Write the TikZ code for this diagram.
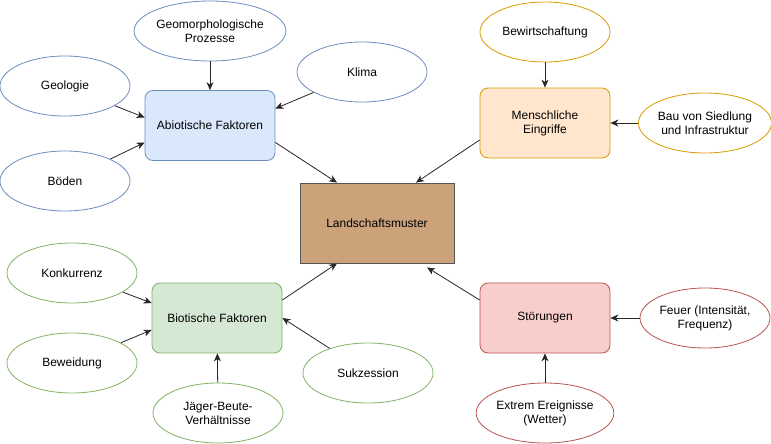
\documentclass[tikz,border=0pt]{standalone}
\usepackage{fontspec}
\setmainfont{Liberation Sans}
\usetikzlibrary{shapes.geometric,arrows.meta}

\definecolor{blueFill}{HTML}{DAE8FC}
\definecolor{blueLine}{HTML}{6C8EBF}
\definecolor{orangeFill}{HTML}{FFE6CC}
\definecolor{orangeLine}{HTML}{D79B00}
\definecolor{greenFill}{HTML}{D5E8D4}
\definecolor{greenLine}{HTML}{82B366}
\definecolor{redFill}{HTML}{F8CECC}
\definecolor{redLine}{HTML}{B85450}
\definecolor{landFill}{HTML}{CCA27B}
\definecolor{landLine}{HTML}{555555}

\begin{document}
\begin{tikzpicture}[
    x=1pt, y=-1pt,
    every node/.style={font=\fontsize{12}{14}\selectfont, align=center, inner sep=0pt},
    factor/.style={rounded corners=8pt, minimum width=130pt, minimum height=70pt, line width=0.8pt},
    influence/.style={ellipse, minimum width=130pt, minimum height=60pt, fill=white, line width=0.8pt},
    arr/.style={-{Stealth[length=8pt, width=7pt, inset=2.5pt]}, line width=0.8pt, black!85},
]
\useasboundingbox (0, 0) rectangle (771, 444);

% Center
\node[draw=landLine, fill=landFill, minimum width=154pt, minimum height=80pt, line width=0.8pt]
    (land) at (377, 223) {Landschaftsmuster};

% Abiotic (blue)
\node[factor, draw=blueLine, fill=blueFill] (abiot) at (210, 125.5) {Abiotische Faktoren};
\node[influence, draw=blueLine] (geomorph) at (210, 31) {Geomorphologische\\Prozesse};
\node[influence, draw=blueLine] (geologie) at (65, 86) {Geologie};
\node[influence, draw=blueLine] (klima) at (362, 72) {Klima};
\node[influence, draw=blueLine] (boeden) at (65, 181) {Böden};

% Human (orange)
\node[factor, draw=orangeLine, fill=orangeFill] (mensch) at (545, 123) {Menschliche\\Eingriffe};
\node[influence, draw=orangeLine] (bewirt) at (545, 32) {Bewirtschaftung};
\node[influence, draw=orangeLine] (bau) at (705, 123) {Bau von Siedlung\\und Infrastruktur};

% Biotic (green)
\node[factor, draw=greenLine, fill=greenFill] (biot) at (217, 318) {Biotische Faktoren};
\node[influence, draw=greenLine] (konk) at (72, 273) {Konkurrenz};
\node[influence, draw=greenLine] (beweid) at (72, 363) {Beweidung};
\node[influence, draw=greenLine] (jaeger) at (218, 413) {Jäger-Beute-\\Verhältnisse};
\node[influence, draw=greenLine] (sukz) at (368, 373) {Sukzession};

% Disturbance (red)
\node[factor, draw=redLine, fill=redFill] (stoer) at (545, 318) {Störungen};
\node[influence, draw=redLine] (feuer) at (705, 318) {Feuer (Intensität,\\Frequenz)};
\node[influence, draw=redLine] (extrem) at (545, 413) {Extrem Ereignisse\\(Wetter)};

% Arrows
\draw[arr] (geomorph) -- (abiot);
\draw[arr] (geologie) -- ([yshift=8pt]abiot.west);
\draw[arr] (boeden) -- ([yshift=-17pt]abiot.west);
\draw[arr] (klima) -- ([yshift=17pt]abiot.east);
\draw[arr] ([yshift=-17pt]abiot.east) -- ([xshift=-40pt]land.north);

\draw[arr] (bewirt) -- (mensch);
\draw[arr] (bau) -- (mensch);
\draw[arr] ([yshift=-17pt]mensch.west) -- ([xshift=39pt]land.north);

\draw[arr] (konk) -- ([yshift=15pt]biot.west);
\draw[arr] (beweid) -- ([yshift=-12pt]biot.west);
\draw[arr] (jaeger) -- (biot);
\draw[arr] (sukz) -- (biot.east);
\draw[arr] ([yshift=18pt]biot.east) -- ([xshift=-40pt]land.south);

\draw[arr] (feuer) -- (stoer);
\draw[arr] (extrem) -- (stoer);
\draw[arr] ([yshift=18pt]stoer.west) -- ([xshift=50pt, yshift=-4pt]land.south);

\end{tikzpicture}
\end{document}
